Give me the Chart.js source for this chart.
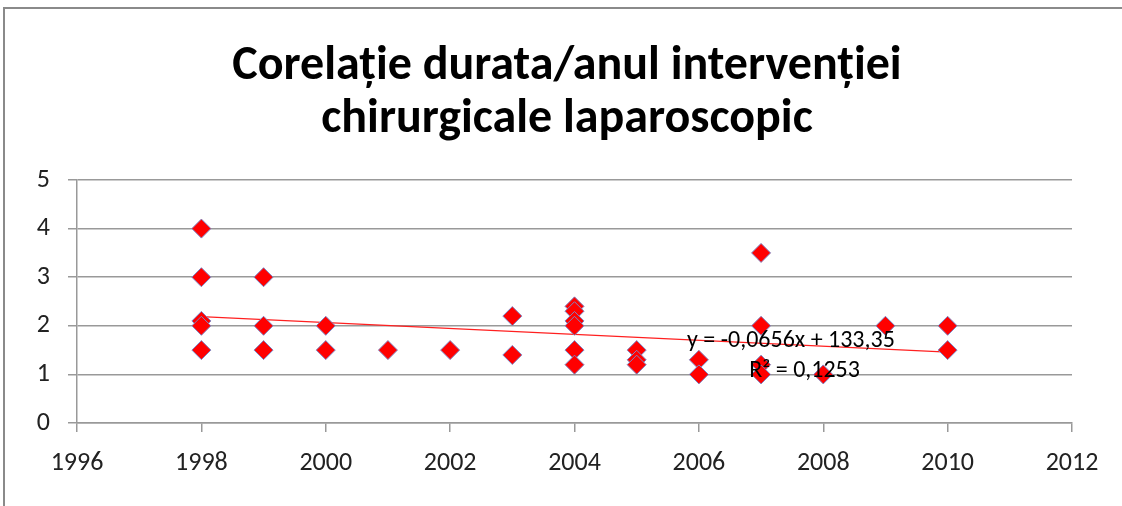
<!DOCTYPE html>
<html>
<head>
<meta charset="utf-8">
<script src="https://cdn.jsdelivr.net/npm/chart.js@4/dist/chart.umd.min.js"></script>
<style>
  html, body { margin: 0; padding: 0; background: #ffffff; }
  #wrap { width: 1122px; height: 506px; position: relative; }
</style>
</head>
<body>
<div id="wrap"><canvas id="c" width="1122" height="506"></canvas></div>
<script>
// ---- data ----
const titleLines = ['Corelație durata/anul intervenției', 'chirurgicale laparoscopic'];
const years = [1998, 1998, 1998, 1998, 1998,
               1999, 1999, 1999,
               2000, 2000,
               2001,
               2002,
               2003, 2003,
               2004, 2004, 2004, 2004, 2004, 2004,
               2005, 2005, 2005,
               2006, 2006,
               2007, 2007, 2007, 2007,
               2008,
               2009,
               2010, 2010];
const durations = [4, 3, 2.1, 2, 1.5,
                   3, 2, 1.5,
                   2, 1.5,
                   1.5,
                   1.5,
                   2.2, 1.4,
                   2.4, 2.3, 2.1, 2, 1.5, 1.2,
                   1.5, 1.3, 1.2,
                   1.3, 1,
                   3.5, 2, 1.2, 1,
                   1,
                   2,
                   2, 1.5];
const trendYears = [1998, 2010];
const trendValues = [2.19, 1.46];
const equationText = 'y = -0,0656x + 133,35';
const r2Text = 'R² = 0,1253';
const xTickMin = 1996, xTickMax = 2012, xTickStep = 2;
const yTickMin = 0, yTickMax = 5, yTickStep = 1;

const FONT = 'Carlito, "Liberation Sans Narrow", "Liberation Sans", sans-serif';

const points = years.map((y, i) => ({ x: y, y: durations[i] }));
const trendPoints = trendYears.map((y, i) => ({ x: y, y: trendValues[i] }));

const decorPlugin = {
  id: 'decor',
  beforeDraw(chart) {
    const ctx = chart.ctx;
    ctx.save();
    ctx.fillStyle = '#ffffff';
    ctx.fillRect(0, 0, chart.width, chart.height);
    ctx.strokeStyle = '#8a8a8a';
    ctx.lineWidth = 2;
    ctx.strokeRect(4, 8, chart.width + 20, chart.height + 20);
    // title
    ctx.fillStyle = '#000000';
    ctx.font = 'bold 48px ' + FONT;
    ctx.textAlign = 'center';
    ctx.textBaseline = 'alphabetic';
    ctx.fillText(titleLines[0], 567, 79);
    ctx.fillText(titleLines[1], 567, 132);
    ctx.restore();
  },
  afterDatasetsDraw(chart) {
    const ctx = chart.ctx;
    const xs = chart.scales.x, ys = chart.scales.y;
    ctx.save();
    ctx.fillStyle = '#000000';
    ctx.font = '24px ' + FONT;
    ctx.textAlign = 'center';
    ctx.textBaseline = 'middle';
    ctx.fillText(equationText, xs.getPixelForValue(2007.48), ys.getPixelForValue(1.69));
    ctx.fillText(r2Text, xs.getPixelForValue(2007.7), ys.getPixelForValue(1.07));
    ctx.restore();
  }
};

new Chart(document.getElementById('c'), {
  type: 'scatter',
  data: {
    datasets: [
      {
        label: 'durata',
        data: points,
        pointStyle: 'rectRot',
        pointRadius: 9.5,
        pointHoverRadius: 9.5,
        backgroundColor: '#ff0000',
        borderColor: '#7d86c4',
        borderWidth: 1
      },
      {
        type: 'line',
        label: 'trend',
        data: trendPoints,
        borderColor: '#ff2020',
        borderWidth: 1.3,
        pointRadius: 0,
        fill: false
      }
    ]
  },
  options: {
    responsive: false,
    animation: false,
    devicePixelRatio: 1,
    layout: { padding: { top: 180, right: 50, left: 0, bottom: 0 } },
    plugins: {
      legend: { display: false },
      title: { display: false },
      tooltip: { enabled: false }
    },
    scales: {
      x: {
        type: 'linear',
        min: xTickMin, max: xTickMax,
        ticks: { stepSize: xTickStep, color: '#222222', font: { family: FONT, size: 26 }, padding: 16, callback: v => String(v) },
        grid: { drawOnChartArea: false, drawTicks: true, tickLength: 9, color: '#999999', lineWidth: 1.5 },
        border: { display: true, color: '#999999', width: 1.5 },
        afterFit(scale) { scale.height = 83; }
      },
      y: {
        min: yTickMin, max: yTickMax,
        ticks: { stepSize: yTickStep, color: '#222222', font: { family: FONT, size: 26 }, padding: 18 },
        grid: { color: '#999999', tickLength: 9, drawTicks: true, lineWidth: 1.5 },
        border: { display: true, color: '#999999', width: 1.5 },
        afterFit(scale) { scale.width = 77; }
      }
    }
  },
  plugins: [decorPlugin]
});
</script>
</body>
</html>
